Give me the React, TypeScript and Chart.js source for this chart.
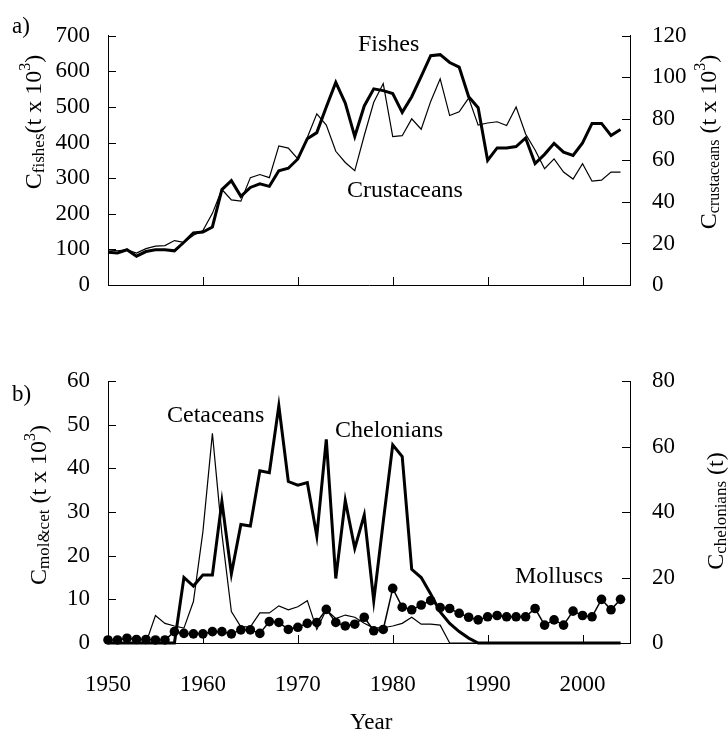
import React, { useEffect, useRef } from "react";
import { Chart, registerables } from "chart.js";
Chart.register(...registerables);

const FONT = '"Liberation Serif", "Times New Roman", serif';

const years = [
  1950, 1951, 1952, 1953, 1954, 1955, 1956, 1957, 1958, 1959,
  1960, 1961, 1962, 1963, 1964, 1965, 1966, 1967, 1968, 1969,
  1970, 1971, 1972, 1973, 1974, 1975, 1976, 1977, 1978, 1979,
  1980, 1981, 1982, 1983, 1984, 1985, 1986, 1987, 1988, 1989,
  1990, 1991, 1992, 1993, 1994, 1995, 1996, 1997, 1998, 1999,
  2000, 2001, 2002, 2003, 2004,
];

const xTickValues = [1950, 1960, 1970, 1980, 1990, 2000];

// Panel a (t x 10^3)
const fishes = [
  92, 90, 99, 81, 94, 99, 99, 96, 120, 146,
  149, 163, 268, 293, 249, 274, 284, 277, 321, 328,
  354, 411, 428, 500, 569, 511, 417, 503, 551, 546,
  538, 485, 529, 586, 644, 647, 625, 612, 529, 498,
  350, 385, 385, 389, 413, 341, 367, 398, 373, 364,
  399, 454, 454, 420, 437,
];
const crustaceans = [
  16.9, 16.5, 16.9, 15.4, 17.5, 18.7, 19.0, 21.4, 20.5, 24,
  26.2, 34.5, 46, 41, 40.4, 51.7, 53.2, 51.7, 67, 65.9,
  60.7, 71, 82.4, 77, 64.4, 59, 55, 72, 88, 97,
  71.5, 71.9, 80, 75, 88.4, 99.3, 81.6, 83.4, 90, 77,
  78, 78.6, 76.8, 85.7, 72.7, 65, 56, 60.7, 54.4, 51,
  58.4, 50, 50.5, 54.4, 54.4,
];

// Panel b
const cetaceans = [
  0, 0, 0, 0, 0, 6.3, 4.5, 3.9, 3.4, 9.5,
  25.5, 48, 25, 7.2, 3.7, 3.7, 6.9, 6.9, 8.5, 7.6,
  8.3, 9.7, 3.1, 7.6, 5.6, 6.4, 5.9, 4.5, 3.4, 3.5,
  3.9, 4.5, 5.9, 4.3, 4.3, 4.1, 0, 0, 0, 0,
  0, 0, 0, 0, 0, 0, 0, 0, 0, 0,
  0, 0, 0, 0, 0,
];
const chelonians = [
  0, 0, 0, 0, 0, 0, 0, 0, 20, 17.4,
  20.8, 20.8, 43.2, 21.1, 36.2, 35.7, 52.6, 52, 72.4, 49.3,
  48.2, 49, 32.7, 62.2, 19.7, 43.5, 28.9, 39.1, 12.9, 37,
  60.5, 56.9, 22.5, 20, 15, 9.5, 6, 3.5, 1.5, 0,
  0, 0, 0, 0, 0, 0, 0, 0, 0, 0,
  0, 0, 0, 0, 0,
];
const molluscs = [
  0.7, 0.7, 1.1, 0.8, 0.8, 0.7, 0.7, 2.6, 2.2, 2.1,
  2.1, 2.6, 2.6, 2.1, 3.0, 3.0, 2.2, 4.9, 4.7, 3.1,
  3.6, 4.5, 4.7, 7.7, 4.7, 3.9, 4.3, 5.9, 2.8, 3.1,
  12.5, 8.2, 7.6, 8.7, 9.7, 8.1, 7.9, 6.8, 5.9, 5.3,
  6.0, 6.3, 6.0, 6.0, 6.0, 7.9, 4.1, 5.3, 4.1, 7.3,
  6.3, 6.0, 10, 7.6, 10,
];

const xMin = 1950;
const xMax = 2005;

type Part = { text: string; size: number; dy?: number };

function drawRotated(ctx: CanvasRenderingContext2D, cx: number, cy: number, parts: Part[], main: number) {
  ctx.save();
  ctx.translate(cx, cy);
  ctx.rotate(-Math.PI / 2);
  ctx.fillStyle = "#000";
  ctx.textBaseline = "alphabetic";
  ctx.textAlign = "left";
  const widths = parts.map((p) => {
    ctx.font = `${p.size}px ${FONT}`;
    return ctx.measureText(p.text).width;
  });
  const total = widths.reduce((a, b) => a + b, 0);
  let x = -total / 2;
  const base = main * 0.33;
  parts.forEach((p, i) => {
    ctx.font = `${p.size}px ${FONT}`;
    ctx.fillText(p.text, x, base + (p.dy || 0));
    x += widths[i];
  });
  ctx.restore();
}

const TICK_LEN = 8;

const inwardTicks = {
  id: "inwardTicks",
  afterDatasetsDraw(chart: any) {
    const ctx = chart.ctx as CanvasRenderingContext2D;
    const { left, right, bottom } = chart.chartArea;
    ctx.save();
    ctx.strokeStyle = "#000";
    ctx.lineWidth = 1;
    Object.keys(chart.scales).forEach((id) => {
      const s = chart.scales[id];
      s.ticks.forEach((t: any) => {
        const p = Math.round(s.getPixelForValue(t.value)) + 0.5;
        ctx.beginPath();
        if (s.axis === "x") {
          ctx.moveTo(p, bottom);
          ctx.lineTo(p, bottom - TICK_LEN);
        } else if (s.position === "left") {
          ctx.moveTo(left, p);
          ctx.lineTo(left + TICK_LEN, p);
        } else {
          ctx.moveTo(right, p);
          ctx.lineTo(right - TICK_LEN, p);
        }
        ctx.stroke();
      });
    });
    ctx.restore();
  },
};

type TextItem = { text: string; x: number; y: number; size: number };
type TitleItem = { cx: number; cy: number; parts: Part[]; main: number };

function textPlugin(texts: TextItem[], titles: TitleItem[]) {
  return {
    id: "texts",
    afterDraw(chart: any) {
      const ctx = chart.ctx as CanvasRenderingContext2D;
      ctx.save();
      ctx.fillStyle = "#000";
      ctx.textBaseline = "alphabetic";
      ctx.textAlign = "left";
      texts.forEach((t) => {
        ctx.font = `${t.size}px ${FONT}`;
        ctx.fillText(t.text, t.x, t.y);
      });
      ctx.restore();
      titles.forEach((t) => drawRotated(ctx, t.cx, t.cy, t.parts, t.main));
    },
  };
}

const TICK_FONT = { family: FONT, size: 23 };
const border = { display: true, color: "#000", width: 1 };

function xScale(height: number, showLabels: boolean, pad: number) {
  return {
    type: "linear",
    min: xMin,
    max: xMax,
    grid: { display: false, drawTicks: false },
    border,
    ticks: {
      display: showLabels,
      autoSkip: false,
      padding: pad,
      color: "#000",
      font: TICK_FONT,
      maxRotation: 0,
      callback: (v: number) => String(Math.round(v)),
    },
    afterBuildTicks: (s: any) => {
      s.ticks = xTickValues.map((v) => ({ value: v }));
    },
    afterFit: (s: any) => {
      s.height = height;
    },
  };
}

function yScale(pos: string, max: number, step: number, width: number, pad: number) {
  return {
    type: "linear",
    position: pos,
    min: 0,
    max,
    grid: { display: false, drawTicks: false },
    border,
    ticks: { stepSize: step, padding: pad, color: "#000", font: TICK_FONT },
    afterFit: (s: any) => {
      s.width = width;
    },
  };
}

const pts = (vals: number[]) => years.map((yr, i) => ({ x: yr, y: vals[i] }));

export default function App() {
  const refA = useRef<HTMLCanvasElement>(null);
  const refB = useRef<HTMLCanvasElement>(null);

  useEffect(() => {
    const chartA = new Chart(refA.current as HTMLCanvasElement, {
      type: "line",
      data: {
        datasets: [
          { label: "Fishes", data: pts(fishes), yAxisID: "y", borderColor: "#000", borderWidth: 3, pointRadius: 0, tension: 0, clip: false } as any,
          { label: "Crustaceans", data: pts(crustaceans), yAxisID: "y1", borderColor: "#000", borderWidth: 1.2, pointRadius: 0, tension: 0, clip: false } as any,
        ],
      },
      options: {
        responsive: false,
        animation: false,
        events: [],
        layout: { padding: { top: 18, left: 0, right: 0, bottom: 0 } },
        plugins: { legend: { display: false }, tooltip: { enabled: false } },
        scales: {
          x: xScale(45, false, 0),
          y: yScale("left", 700, 100, 108, 18),
          y1: yScale("right", 120, 20, 98, 22),
        } as any,
      },
      plugins: [
        inwardTicks,
        textPlugin(
          [
            { text: "a)", x: 12, y: 33, size: 23 },
            { text: "Fishes", x: 358, y: 51, size: 24 },
            { text: "Crustaceans", x: 347, y: 197, size: 24 },
          ],
          [
            {
              cx: 33,
              cy: 122,
              main: 24,
              parts: [
                { text: "C", size: 24 },
                { text: "fishes", size: 17, dy: 3 },
                { text: "(t x 10", size: 24 },
                { text: "3", size: 16, dy: -11 },
                { text: ")", size: 24 },
              ],
            },
            {
              cx: 708,
              cy: 142,
              main: 24,
              parts: [
                { text: "C", size: 24 },
                { text: "crustaceans", size: 16, dy: 3 },
                { text: " (t x 10", size: 24 },
                { text: "3", size: 16, dy: -11 },
                { text: ")", size: 24 },
              ],
            },
          ]
        ),
      ],
    });

    const chartB = new Chart(refB.current as HTMLCanvasElement, {
      type: "line",
      data: {
        datasets: [
          { label: "Molluscs", data: pts(molluscs), yAxisID: "y", borderColor: "#000", borderWidth: 1.5, pointRadius: 4.8, pointBackgroundColor: "#000", pointBorderWidth: 0, tension: 0, clip: false } as any,
          { label: "Chelonians", data: pts(chelonians), yAxisID: "y1", borderColor: "#000", borderWidth: 3, pointRadius: 0, tension: 0, clip: false } as any,
          { label: "Cetaceans", data: pts(cetaceans), yAxisID: "y", borderColor: "#000", borderWidth: 1.2, pointRadius: 0, tension: 0, clip: false } as any,
        ],
      },
      options: {
        responsive: false,
        animation: false,
        events: [],
        layout: { padding: { top: 51, left: 0, right: 0, bottom: 0 } },
        plugins: { legend: { display: false }, tooltip: { enabled: false } },
        scales: {
          x: xScale(92, true, 28),
          y: yScale("left", 60, 10, 108, 18),
          y1: yScale("right", 80, 20, 98, 22),
        } as any,
      },
      plugins: [
        inwardTicks,
        textPlugin(
          [
            { text: "b)", x: 12, y: 71, size: 23 },
            { text: "Cetaceans", x: 167, y: 92, size: 24 },
            { text: "Chelonians", x: 335, y: 107, size: 24 },
            { text: "Molluscs", x: 515, y: 253, size: 24 },
            { text: "Year", x: 350, y: 399, size: 23 },
          ],
          [
            {
              cx: 38,
              cy: 175,
              main: 24,
              parts: [
                { text: "C", size: 24 },
                { text: "mol&cet", size: 17, dy: 3 },
                { text: " (t x 10", size: 24 },
                { text: "3", size: 16, dy: -11 },
                { text: ")", size: 24 },
              ],
            },
            {
              cx: 715,
              cy: 181,
              main: 24,
              parts: [
                { text: "C", size: 24 },
                { text: "chelonians", size: 17, dy: 3 },
                { text: " (t)", size: 24 },
              ],
            },
          ]
        ),
      ],
    });

    return () => {
      chartA.destroy();
      chartB.destroy();
    };
  }, []);

  return (
    <div style={{ position: "absolute", left: 0, top: 0, width: 728, height: 735, background: "#fff" }}>
      <canvas ref={refA} width={728} height={330} style={{ position: "absolute", left: 0, top: 0, width: 728, height: 330 }} />
      <canvas ref={refB} width={728} height={405} style={{ position: "absolute", left: 0, top: 330, width: 728, height: 405 }} />
    </div>
  );
}
